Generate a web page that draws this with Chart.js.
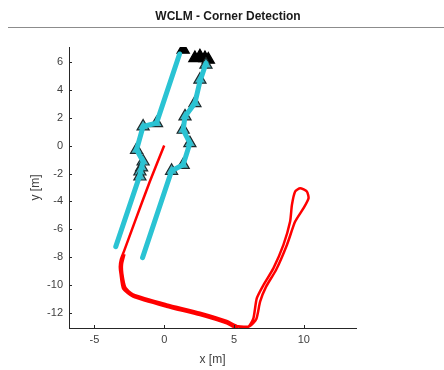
<!DOCTYPE html>
<html>
<head>
<meta charset="utf-8">
<script src="https://cdn.jsdelivr.net/npm/chart.js@4.4.1/dist/chart.umd.min.js"></script>
<style>
  html, body { margin: 0; padding: 0; background: #fff; }
  #wrap { width: 444px; height: 370px; position: relative; }
</style>
</head>
<body>
<div id="wrap"><canvas id="chart"></canvas></div>
<script>
// tick positions
const xTicks = [-5, 0, 5, 10];
const yTicks = [-12, -10, -8, -6, -4, -2, 0, 2, 4, 6];

// robot trajectory (red), two laps
const trajX = [0, -1.03, -2.1, -2.89, -3.11, -3.18, -3.13, -2.94, -2.23, 0.17, 2.56, 4.48, 5.31, 6.03, 6.39, 6.63, 7.11, 7.82, 8.54, 9.02, 9.15, 9.38, 9.74, 10.22, 10.34, 9.98, 9.38, 8.79, 8.02, 7.30, 6.87, 6.60, 6.10, 5.30, 4.48, 2.56, 0.17, -2.23, -2.78, -3.0, -3.02, -2.85];
const trajY = [0.02, -2.57, -5.45, -7.61, -8.19, -8.7, -9.19, -10.27, -10.85, -11.57, -12.17, -12.77, -13.17, -13.01, -12.41, -10.97, -10.01, -8.81, -7.13, -5.45, -4.25, -3.29, -3.05, -3.29, -3.77, -4.49, -5.45, -7.13, -8.91, -10.13, -11.21, -12.45, -12.98, -12.98, -12.6, -12.0, -11.4, -10.68, -10.2, -9.2, -8.5, -7.8];

// wall lines (cyan)
const wallLeftX = [-3.47, -1.74, -1.62, -1.51, -1.98, -1.51, -0.55, 1.1];
const wallLeftY = [-7.25, -2.1, -1.56, -1.13, -0.29, 1.39, 1.63, 6.6];
const wallRightX = [-1.55, 0.53, 1.36, 1.84, 1.36, 1.49, 2.2, 2.56, 2.99];
const wallRightY = [-8.04, -1.80, -1.37, 0.19, 1.15, 2.11, 3.07, 4.63, 5.92];

// detected corners
const cornerX = [-1.51, -0.55, -1.98, -1.51, -1.62, -1.74, -1.74, 1.49, 1.36, 1.84, 1.36, 0.53, 2.2, 2.56, 2.99];
const cornerY = [1.39, 1.63, -0.29, -1.13, -1.56, -1.85, -2.21, 2.11, 1.15, 0.19, -1.37, -1.80, 3.07, 4.75, 5.83];
const blackX = [1.36, 2.2, 2.56, 2.92, 3.16];
const blackY = [6.91, 6.31, 6.43, 6.31, 6.19];

const pts = (xs, ys) => xs.map((x, i) => ({ x: x, y: ys[i] }));

const inwardTicks = {
    id: "inwardTicks",
    beforeDraw(chart) {
        const ctx = chart.ctx;
        ctx.save();
        ctx.strokeStyle = "#8c8c8c";
        ctx.lineWidth = 1;
        ctx.beginPath();
        ctx.moveTo(8, 27.5);
        ctx.lineTo(444, 27.5);
        ctx.stroke();
        ctx.restore();
    },
    afterDraw(chart) {
        const ctx = chart.ctx;
        const a = chart.chartArea;
        const xs = chart.scales.x, ys = chart.scales.y;
        ctx.save();
        ctx.strokeStyle = "#262626";
        ctx.lineWidth = 1;
        ctx.beginPath();
        xTicks.forEach(v => {
            const px = Math.round(xs.getPixelForValue(v)) + 0.5;
            ctx.moveTo(px, a.bottom);
            ctx.lineTo(px, a.bottom - 3);
        });
        yTicks.forEach(v => {
            const py = Math.round(ys.getPixelForValue(v)) + 0.5;
            ctx.moveTo(a.left, py);
            ctx.lineTo(a.left + 3, py);
        });
        ctx.stroke();
        ctx.restore();
    }
};

const font = "'Liberation Sans', Arial, sans-serif";

new Chart(document.getElementById("chart"), {
    type: "scatter",
    data: {
        datasets: [
            {
                data: pts(trajX, trajY),
                showLine: true,
                borderColor: "#ff0000",
                borderWidth: 2.5,
                pointRadius: 0,
                tension: 0.2
            },
            {
                data: pts(wallLeftX, wallLeftY),
                showLine: true,
                borderColor: "#2ac3d3",
                borderWidth: 5,
                borderCapStyle: "round",
                pointRadius: 0
            },
            {
                data: pts(wallRightX, wallRightY),
                showLine: true,
                borderColor: "#2ac3d3",
                borderWidth: 5,
                borderCapStyle: "round",
                pointRadius: 0
            },
            {
                data: pts(cornerX, cornerY),
                pointStyle: "triangle",
                pointRadius: 7,
                backgroundColor: "#48b4c2",
                borderColor: "#1e2a2c",
                borderWidth: 1.2
            },
            {
                data: pts(blackX, blackY),
                pointStyle: "triangle",
                pointRadius: 7,
                backgroundColor: "#000000",
                borderColor: "#000000",
                borderWidth: 1.3
            }
        ]
    },
    options: {
        responsive: true,
        maintainAspectRatio: false,
        animation: false,
        layout: { padding: { left: 12, right: 0, top: 0, bottom: 0 } },
        plugins: {
            legend: { display: false },
            tooltip: { enabled: false },
            title: {
                display: true,
                text: "WCLM - Corner Detection",
                color: "#1a1a1a",
                font: { family: font, size: 12, weight: "bold" },
                padding: { top: 9, bottom: 23.6 }
            }
        },
        scales: {
            x: {
                type: "linear",
                min: -6.82,
                max: 13.74,
                afterFit: s => { s.height = 42; },
                afterBuildTicks: s => { s.ticks = xTicks.map(v => ({ value: v })); },
                ticks: { color: "#404040", font: { family: font, size: 11 }, padding: 5 },
                grid: { drawOnChartArea: false, drawTicks: false },
                border: { display: true, color: "#262626", width: 1 },
                title: {
                    display: true,
                    text: "x [m]",
                    color: "#404040",
                    font: { family: font, size: 12 },
                    padding: { top: 2, bottom: 3 }
                }
            },
            y: {
                type: "linear",
                min: -13.1,
                max: 7.1,
                afterFit: s => { s.width = 57; },
                afterBuildTicks: s => { s.ticks = yTicks.map(v => ({ value: v })); },
                ticks: { color: "#404040", font: { family: font, size: 11 }, padding: 6 },
                grid: { drawOnChartArea: false, drawTicks: false },
                border: { display: true, color: "#262626", width: 1 },
                title: {
                    display: true,
                    text: "y [m]",
                    color: "#404040",
                    font: { family: font, size: 12 },
                    padding: { top: 16, bottom: 0 }
                }
            },
            // empty right margin
            r: {
                type: "linear",
                position: "right",
                afterFit: s => { s.width = 88; },
                ticks: { display: false },
                grid: { display: false },
                border: { display: false }
            }
        }
    },
    plugins: [inwardTicks]
});
</script>
</body>
</html>
